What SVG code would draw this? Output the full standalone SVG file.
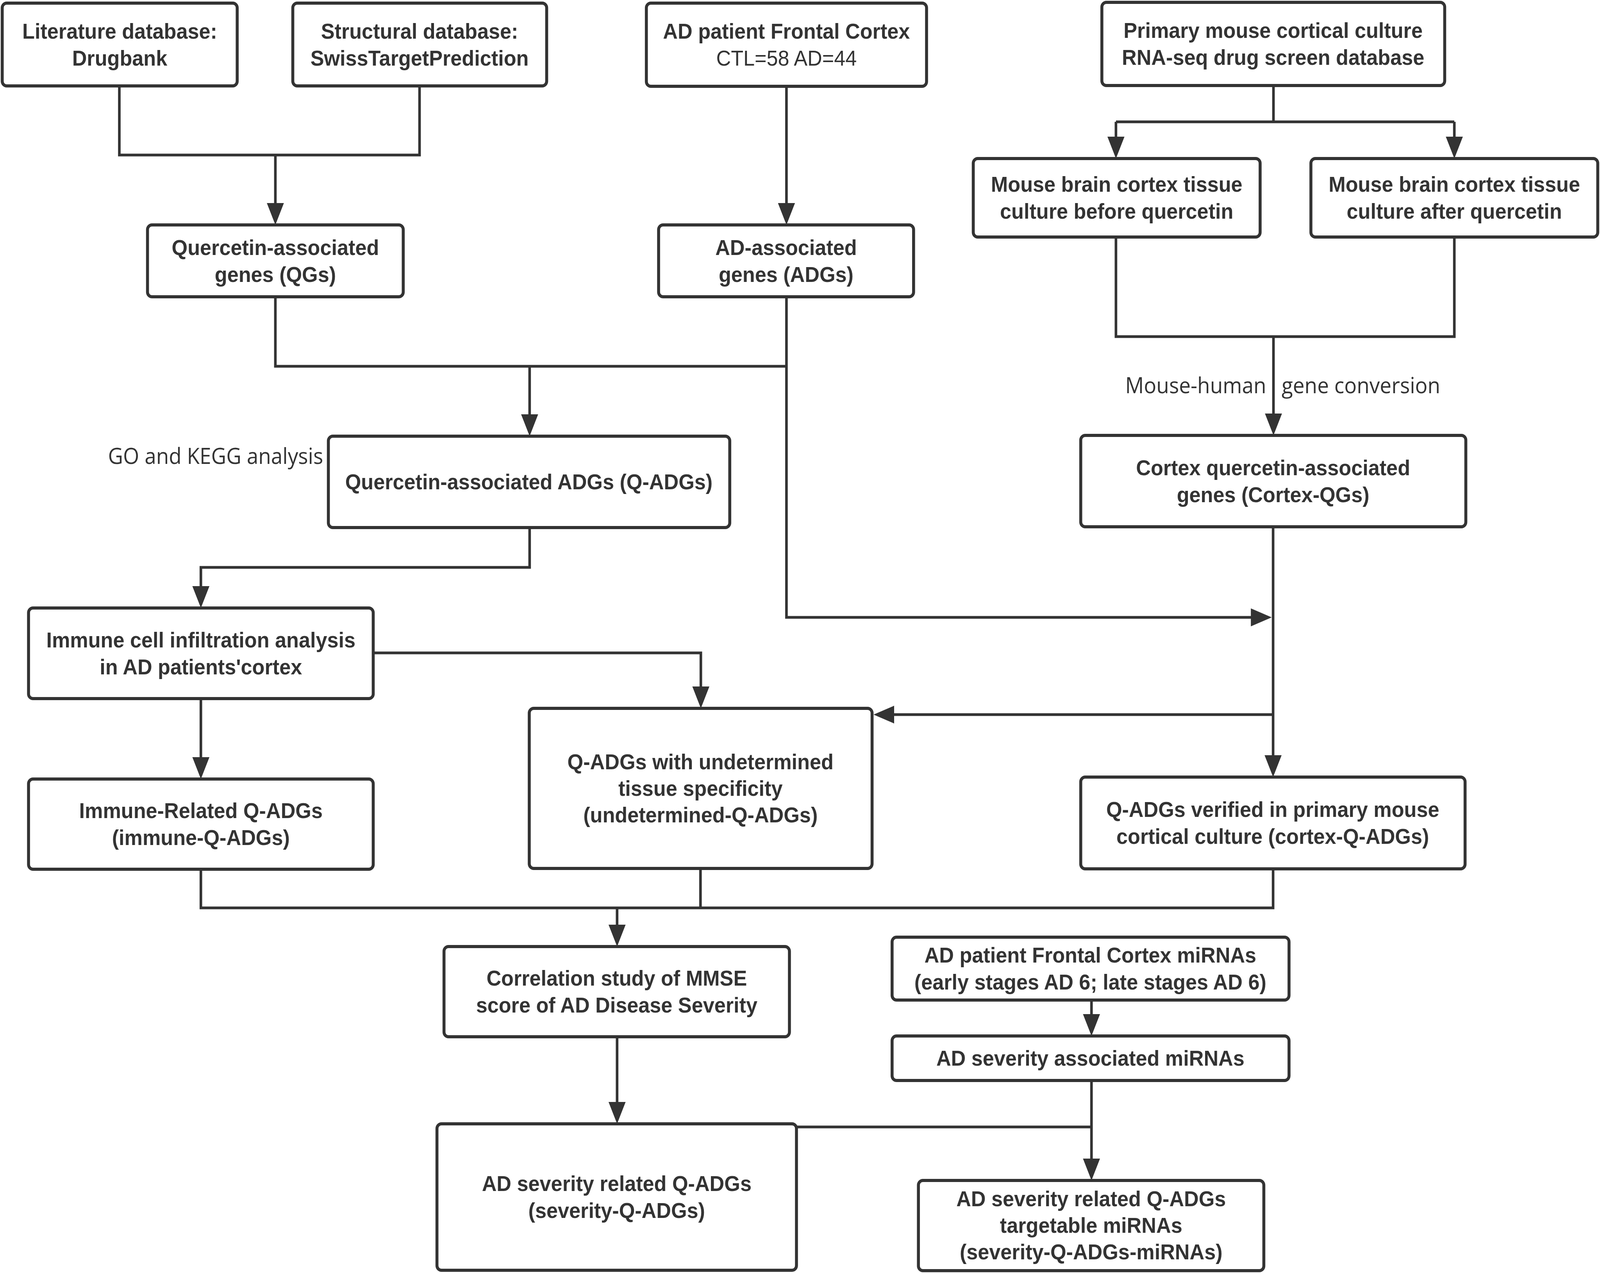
<svg xmlns="http://www.w3.org/2000/svg" width="4317" height="3260" viewBox="0 0 4317 3260">
<style>
.box{fill:#fff;stroke:#333;stroke-width:8}
.t{font-family:"Liberation Sans",Arial,sans-serif;font-size:55px;font-weight:bold;fill:#333;text-anchor:middle}
.r{font-weight:normal}
.lab{font-family:"Open Sans","Noto Sans",sans-serif;font-size:56px;fill:#333}
.c{fill:none;stroke:#333;stroke-width:7}
.a{marker-end:url(#arr)}
</style>
<defs>
<marker id="arr" viewBox="0 0 56 46" refX="36" refY="23" markerWidth="56" markerHeight="46" markerUnits="userSpaceOnUse" orient="auto">
<path d="M0,0 L56,23 L0,46 z" fill="#333"/>
</marker>
</defs>
<rect width="4317" height="3260" fill="#fff"/>
<g transform="scale(0.9488,1)">
<g id="connectors">
<path class="c" d="M322,220 V397 H1132 V220"/>
<path class="c a" d="M743,397 V556"/>
<path class="c a" d="M2122,221 V556"/>
<path class="c" d="M3436,219 V312 M3011,312 H3924"/>
<path class="c a" d="M3011,312 V386"/>
<path class="c a" d="M3924,312 V386"/>
<path class="c" d="M3011,607 V862 H3924 V607"/>
<path class="c a" d="M3436,862 V1095"/>
<path class="c" d="M743,760 V938 H2122"/>
<path class="c a" d="M1429,938 V1097"/>
<path class="c a" d="M2122,760 V1581 H3411"/>
<path class="c a" d="M3435,1349 V1970"/>
<path class="c a" d="M3435,1830 H2377"/>
<path class="c a" d="M1429,1351 V1453 H542 V1537"/>
<path class="c a" d="M1007,1672 H1891 V1794"/>
<path class="c a" d="M542,1789 V1975"/>
<path class="c" d="M542,2226 V2325 H3435 V2225 M1890,2224 V2325"/>
<path class="c a" d="M1665,2325 V2404"/>
<path class="c a" d="M1665,2655 V2858"/>
<path class="c a" d="M2945,2561 V2633"/>
<path class="c a" d="M2945,2767 V3003"/>
<path class="c" d="M2149,2886 H2945"/>
</g>
<g id="labels">
<text class="lab" x="872" y="1188" text-anchor="end">GO and KEGG analysis</text>
<text class="lab" x="3036" y="1007">Mouse-human<tspan x="3458">gene conversion</tspan></text>
</g>
<g id="nodeA"><rect class="box" x="6" y="8" width="634" height="212" rx="12"/>
<text class="t" x="323" y="99">Literature database:</text><text class="t" x="323" y="168">Drugbank</text></g>
<g id="nodeB"><rect class="box" x="790" y="8" width="685" height="212" rx="12"/>
<text class="t" x="1132" y="99">Structural database:</text><text class="t" x="1132" y="168">SwissTargetPrediction</text></g>
<g id="nodeC"><rect class="box" x="1744" y="8" width="756" height="213" rx="12"/>
<text class="t" x="2122" y="99">AD patient Frontal Cortex</text><text class="t r" x="2122" y="168">CTL=58 AD=44</text></g>
<g id="nodeD"><rect class="box" x="2973" y="6" width="925" height="213" rx="12"/>
<text class="t" x="3435" y="97">Primary mouse cortical culture</text><text class="t" x="3435" y="166">RNA-seq drug screen database</text></g>
<g id="nodeE"><rect class="box" x="2626" y="406" width="774" height="201" rx="12"/>
<text class="t" x="3013" y="491">Mouse brain cortex tissue</text><text class="t" x="3013" y="560">culture before quercetin</text></g>
<g id="nodeF"><rect class="box" x="3537" y="406" width="774" height="201" rx="12"/>
<text class="t" x="3924" y="491">Mouse brain cortex tissue</text><text class="t" x="3924" y="560">culture after quercetin</text></g>
<g id="nodeG"><rect class="box" x="398" y="576" width="690" height="184" rx="12"/>
<text class="t" x="743" y="653">Quercetin-associated</text><text class="t" x="743" y="722">genes (QGs)</text></g>
<g id="nodeH"><rect class="box" x="1777" y="576" width="688" height="184" rx="12"/>
<text class="t" x="2121" y="653">AD-associated</text><text class="t" x="2121" y="722">genes (ADGs)</text></g>
<g id="nodeI"><rect class="box" x="886" y="1117" width="1083" height="234" rx="12"/>
<text class="t" x="1427" y="1253">Quercetin-associated ADGs (Q-ADGs)</text></g>
<g id="nodeJ"><rect class="box" x="2916" y="1115" width="1039" height="234" rx="12"/>
<text class="t" x="3435" y="1217">Cortex quercetin-associated</text><text class="t" x="3435" y="1286">genes (Cortex-QGs)</text></g>
<g id="nodeK"><rect class="box" x="77" y="1557" width="930" height="232" rx="12"/>
<text class="t" x="542" y="1658">Immune cell infiltration analysis</text><text class="t" x="542" y="1727">in AD patients'cortex</text></g>
<g id="nodeL"><rect class="box" x="77" y="1995" width="930" height="231" rx="12"/>
<text class="t" x="542" y="2095">Immune-Related Q-ADGs</text><text class="t" x="542" y="2164">(immune-Q-ADGs)</text></g>
<g id="nodeM"><rect class="box" x="1428" y="1814" width="925" height="410" rx="12"/>
<text class="t" x="1890" y="1970">Q-ADGs with undetermined</text><text class="t" x="1890" y="2038">tissue specificity</text><text class="t" x="1890" y="2106">(undetermined-Q-ADGs)</text></g>
<g id="nodeN"><rect class="box" x="2916" y="1990" width="1037" height="235" rx="12"/>
<text class="t" x="3434" y="2092">Q-ADGs verified in primary mouse</text><text class="t" x="3434" y="2161">cortical culture (cortex-Q-ADGs)</text></g>
<g id="nodeO"><rect class="box" x="1198" y="2424" width="932" height="231" rx="12"/>
<text class="t" x="1664" y="2524">Correlation study of MMSE</text><text class="t" x="1664" y="2593">score of AD Disease Severity</text></g>
<g id="nodeP"><rect class="box" x="2407" y="2400" width="1071" height="161" rx="12"/>
<text class="t" x="2942" y="2465">AD patient Frontal Cortex miRNAs</text><text class="t" x="2942" y="2534">(early stages AD 6; late stages AD 6)</text></g>
<g id="nodeQ"><rect class="box" x="2407" y="2653" width="1071" height="114" rx="12"/>
<text class="t" x="2942" y="2729">AD severity associated miRNAs</text></g>
<g id="nodeR"><rect class="box" x="1179" y="2878" width="970" height="375" rx="12"/>
<text class="t" x="1664" y="3050">AD severity related Q-ADGs</text><text class="t" x="1664" y="3119">(severity-Q-ADGs)</text></g>
<g id="nodeS"><rect class="box" x="2478" y="3023" width="932" height="231" rx="12"/>
<text class="t" x="2944" y="3089">AD severity related Q-ADGs</text><text class="t" x="2944" y="3157">targetable miRNAs</text><text class="t" x="2944" y="3225">(severity-Q-ADGs-miRNAs)</text></g>
</g>
</svg>
